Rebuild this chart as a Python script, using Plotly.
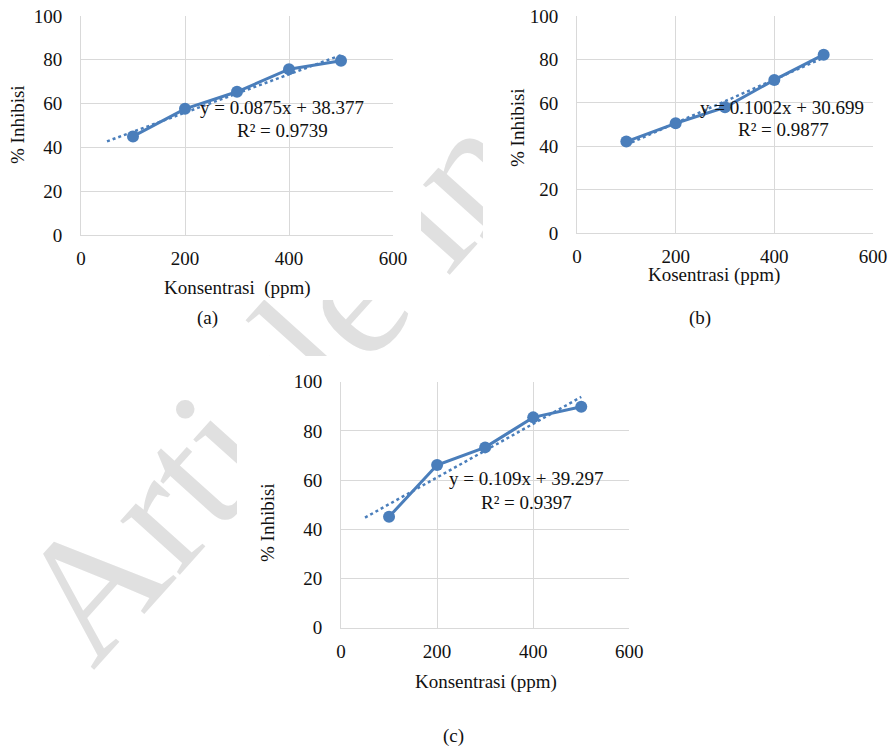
import plotly.graph_objects as go

W, H = 889, 748

# ---------------- data ----------------
conc = [100, 200, 300, 400, 500]
inhib_a = [45.0, 57.6, 65.4, 75.7, 79.6]
inhib_b = [42.2, 50.6, 58.0, 70.6, 82.2]
inhib_c = [45.1, 66.1, 73.3, 85.5, 89.8]

slope_a, icpt_a, r2_a = 0.0875, 38.377, 0.9739
slope_b, icpt_b, r2_b = 0.1002, 30.699, 0.9877
slope_c, icpt_c, r2_c = 0.109, 39.297, 0.9397

trend_x_a = [50, 500]
trend_x_b = [100, 500]
trend_x_c = [50, 500]

x_ticks = [0, 200, 400, 600]
y_ticks = [0, 20, 40, 60, 80, 100]

xtitle_a = "Konsentrasi  (ppm)"
xtitle_b = "Kosentrasi (ppm)"
xtitle_c = "Konsentrasi (ppm)"
ytitle = "% Inhibisi"
captions = ["(a)", "(b)", "(c)"]
watermark = "Article in Press"

# ---------------- style ----------------
BLUE = "#4a7ebb"
GRID = "#d9d9d9"
FONT = "Liberation Serif, Times New Roman, Times, serif"
FS = 19
TXT = "#111111"


def px(x):
    return x / W


def py(y):
    return 1 - y / H


fig = go.Figure()

panels = [
    dict(xa="x", ya="y", data=inhib_a, m=slope_a, b=icpt_a, r2=r2_a, tx=trend_x_a,
         dom_x=[px(81), px(393)], dom_y=[py(235), py(16)]),
    dict(xa="x2", ya="y2", data=inhib_b, m=slope_b, b=icpt_b, r2=r2_b, tx=trend_x_b,
         dom_x=[px(577), px(873)], dom_y=[py(233.3), py(16)]),
    dict(xa="x3", ya="y3", data=inhib_c, m=slope_c, b=icpt_c, r2=r2_c, tx=trend_x_c,
         dom_x=[px(341), px(629.3)], dom_y=[py(627.7), py(381.7)]),
]

for i, p in enumerate(panels):
    ty = [p["m"] * x + p["b"] for x in p["tx"]]
    fig.add_trace(go.Scatter(x=p["tx"], y=ty, mode="lines",
                             line=dict(color=BLUE, width=2.5, dash="dot"),
                             xaxis=p["xa"], yaxis=p["ya"], showlegend=False,
                             hoverinfo="skip"))
    fig.add_trace(go.Scatter(x=conc, y=p["data"], mode="lines+markers",
                             line=dict(color=BLUE, width=3),
                             marker=dict(color=BLUE, size=12),
                             xaxis=p["xa"], yaxis=p["ya"], showlegend=False))

axis_common = dict(showgrid=True, gridcolor=GRID, gridwidth=1, zeroline=False,
                   ticks="", tickfont=dict(family=FONT, size=FS, color=TXT),
                   fixedrange=True, automargin=False, ticklabeloverflow="allow")

layout_axes = {}
for i, p in enumerate(panels):
    sfx = "" if i == 0 else str(i + 1)
    layout_axes["xaxis" + sfx] = dict(axis_common, domain=p["dom_x"], range=[0, 600],
                                      tickvals=x_ticks, showline=True, linecolor=GRID,
                                      linewidth=1, mirror=False, ticklabelstandoff=6,
                                      anchor="y" + sfx)
    layout_axes["yaxis" + sfx] = dict(axis_common, domain=p["dom_y"], range=[0, 100],
                                      tickvals=y_ticks, showline=True, linecolor=GRID,
                                      linewidth=1, ticklabelstandoff=14,
                                      anchor="x" + sfx)

ann = []


def text(x, y, s, size=FS, angle=0):
    ann.append(dict(x=px(x), y=py(y), xref="paper", yref="paper", text=s,
                    showarrow=False, xanchor="center", yanchor="middle",
                    textangle=angle, font=dict(family=FONT, size=size, color=TXT)))


# axis titles
text(237, 288, xtitle_a)
text(714, 275, xtitle_b)
text(486, 682, xtitle_c)
text(17, 125, ytitle, angle=-90)
text(517, 128, ytitle, angle=-90)
text(267, 523, ytitle, angle=-90)
# captions
text(207, 318, captions[0])
text(700, 318, captions[1])
text(453, 736, captions[2])
# equations
text(282, 107, f"y = {slope_a}x + {icpt_a}")
text(282, 130, f"R² = {r2_a}")
text(782, 107, f"y = {slope_b}x + {icpt_b}")
text(783, 129, f"R² = {r2_b}")
text(526, 478, f"y = {slope_c}x + {icpt_c}")
text(526, 502, f"R² = {r2_c}")

shapes = [
    # watermark (drawn below everything)
    dict(type="rect", xref="paper", yref="paper", x0=px(12), x1=px(780), y0=py(422), y1=py(14),
         line=dict(width=0), fillcolor="rgba(0,0,0,0)", layer="below",
         label=dict(text=watermark, textangle=-48, textposition="middle center",
                    font=dict(family=FONT, size=175, color="#e0e0e0"))),
]
# white chart boxes that hide the watermark
for (x0, y0, x1, y1) in [(0, 0, 421, 300), (483, 0, 889, 300), (237, 356, 660, 748)]:
    shapes.append(dict(type="rect", xref="paper", yref="paper", x0=px(x0), x1=px(x1),
                       y0=py(y1), y1=py(y0), line=dict(width=0), fillcolor="white",
                       layer="below"))

fig.update_layout(width=W, height=H, margin=dict(l=0, r=0, t=0, b=0),
                  paper_bgcolor="white", plot_bgcolor="rgba(0,0,0,0)",
                  annotations=ann, shapes=shapes, **layout_axes)

fig.write_html("out.html",
               config={"displayModeBar": False, "staticPlot": True},
               post_script="document.body.style.margin='0px';"
                           "document.documentElement.style.overflow='hidden';")
